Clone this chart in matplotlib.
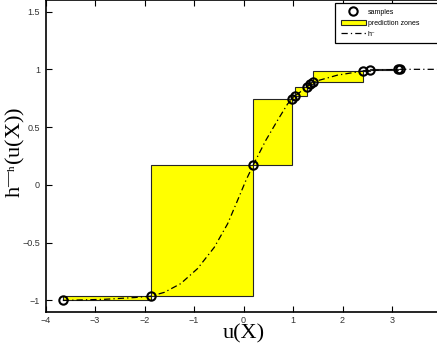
import numpy as np
import matplotlib
matplotlib.use('Agg')
import matplotlib.pyplot as plt

# samples (u(X), h^-(u(X)))
sx = [-3.65, -1.87, 0.20, 0.98, 1.04, 1.28, 1.35, 1.40, 2.41, 2.55, 3.12, 3.17]
sy = [-1.0, -0.963, 0.175, 0.74, 0.769, 0.847, 0.87, 0.89, 0.985, 0.99, 1.0, 1.0]

# h^- curve
hx = [-3.65, -2.8, -2.2, -1.87, -1.60, -1.27, -0.93, -0.59, -0.32, -0.12, 0.05,
      0.20, 0.45, 0.69, 0.89, 1.04, 1.26, 1.40, 1.90, 2.41, 2.55, 3.12, 4.3]
hy = [-1.0, -0.99, -0.975, -0.963, -0.93, -0.855, -0.725, -0.54, -0.336, -0.134, 0.04,
      0.175, 0.385, 0.56, 0.70, 0.77, 0.84, 0.89, 0.95, 0.985, 0.99, 1.0, 1.0]

xticks = [-4, -3, -2, -1, 0, 1, 2, 3]
yticks = [-1, -0.5, 0, 0.5, 1, 1.5]

plt.rcParams['font.family'] = ['Liberation Sans', 'DejaVu Sans']
plt.rcParams['mathtext.fontset'] = 'custom'
plt.rcParams['mathtext.rm'] = 'Liberation Serif'
plt.rcParams['mathtext.it'] = 'Liberation Serif:italic'

fig = plt.figure(figsize=(4.37, 3.46), dpi=100)
ax = fig.add_axes([45.5/437, 1-312/346, 396/437, 312/346])

# prediction zones: boxes between consecutive samples
left = np.array(sx[:-1])
width = np.diff(sx)
bottom = np.array(sy[:-1])
height = np.diff(sy)
ax.bar(left, height, width=width, bottom=bottom, align='edge', color='yellow',
       edgecolor='0.15', linewidth=0.8, label='prediction zones', zorder=2)

ax.plot(hx, hy, color='k', linestyle='-.', linewidth=0.9, dashes=(5, 2.5, 1, 2.5),
        label='h\u207b', zorder=3)
ax.plot(sx, sy, 'o', mfc='none', mec='k', ms=6, mew=1.5, label='samples', zorder=4)

ax.set_xlim(-4, 4)
ax.set_ylim(-1.1, 1.6)
ax.set_xticks(xticks)
ax.set_yticks(yticks)
ax.set_xticklabels(['\u22124', '\u22123', '\u22122', '\u22121', '0', '1', '2', '3'])
ax.set_yticklabels(['\u22121', '\u22120.5', '0', '0.5', '1', '1.5'])
ax.tick_params(direction='in', top=True, right=False, length=4, width=0.8,
               labelsize=6.5, labelcolor='0.2')
ax.tick_params(axis='x', pad=3)
ax.tick_params(axis='y', pad=4)
for s in ax.spines.values():
    s.set_linewidth(1.2)

ax.set_xlabel('u(X)', fontsize=16, family=['Liberation Serif', 'DejaVu Serif'], labelpad=-1)
ax.set_ylabel('$\\mathrm{h}^{\\mathrm{\u2014}{}_{\\mathrm{h}}}\\mathrm{(u(X))}$', fontsize=16)
ax.yaxis.set_label_coords(-0.047, 0.51)

h, l = ax.get_legend_handles_labels()
idx = {lab: i for i, lab in enumerate(l)}
order = [idx['samples'], idx['prediction zones'], idx['h\u207b']]
leg = ax.legend([h[i] for i in order], [l[i] for i in order], loc='upper left',
                bbox_to_anchor=(335/437, 1-43/346, 110/437, 40/346),
                bbox_transform=fig.transFigure, mode='expand',
                fontsize=5, frameon=True, fancybox=False, framealpha=1,
                edgecolor='k', borderpad=0.8, labelspacing=0.6, handlelength=3.6,
                handletextpad=0.3, borderaxespad=0)
leg.get_frame().set_linewidth(0.9)

fig.savefig('out.png', dpi=100)
